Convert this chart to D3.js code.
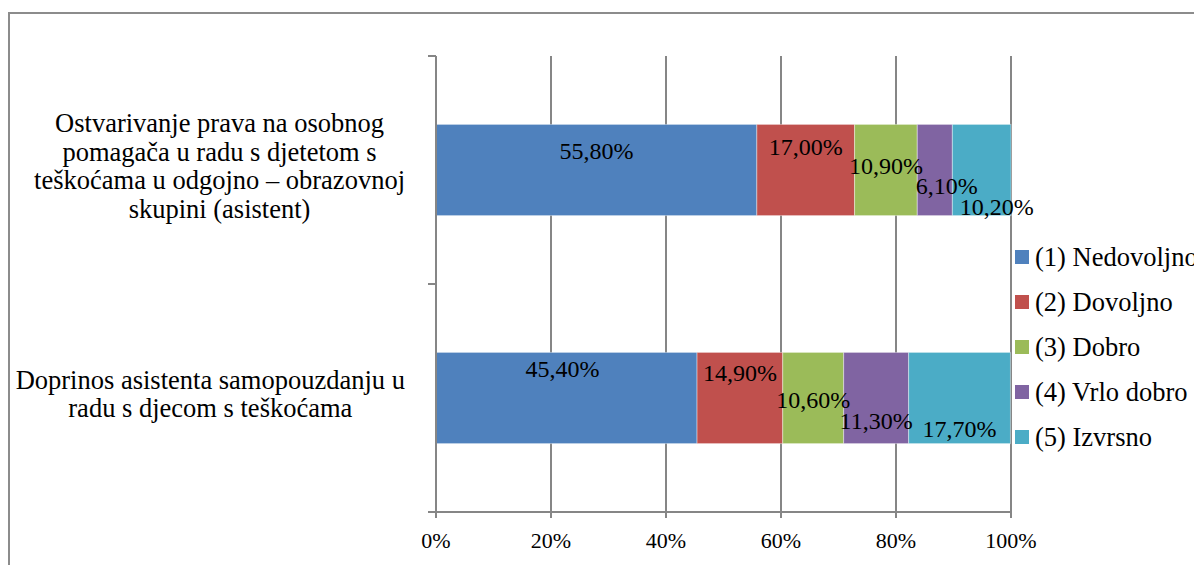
<!DOCTYPE html>
<meta charset="utf-8">
<style>
body { margin: 0; background: #fff; }
svg { font-family: "Liberation Serif", "Times New Roman", serif; }
</style>
<body>
<svg width="1194" height="565"></svg>
<script src="https://cdn.jsdelivr.net/npm/d3@7"></script>
<script>

// data
var categories = [
  "Ostvarivanje prava na osobnog|pomagača u radu s djetetom s|teškoćama u odgojno – obrazovnoj|skupini (asistent)",
  "Doprinos asistenta samopouzdanju u|radu s djecom s teškoćama"
];
var seriesNames = ["(1) Nedovoljno", "(2) Dovoljno", "(3) Dobro", "(4) Vrlo dobro", "(5) Izvrsno"];
var nedovoljno = [55.8, 45.4];
var dovoljno   = [17.0, 14.9];
var dobro      = [10.9, 10.6];
var vrloDobro  = [6.1, 11.3];
var izvrsno    = [10.2, 17.7];
var xTicks = [0, 20, 40, 60, 80, 100];

var colors = ["#4f81bd", "#c0504d", "#9bbb59", "#8064a2", "#4bacc6"];

var svg = d3.select("svg");

// outer frame (only top and left edge show)
svg.append("path")
    .attr("d", "M9,1194 L9,13 L1194,13")
    .attr("fill", "none")
    .attr("stroke", "#8c8c8c")
    .attr("stroke-width", 2);

var pLeft = 436, pRight = 1011, pTop = 56, pBottom = 512;

var x = d3.scaleLinear().domain([0, 100]).range([pLeft, pRight]);
var y = d3.scaleBand().domain(d3.range(categories.length)).range([pTop, pBottom]).paddingInner(0.6).paddingOuter(0.3);
// band for ticks (no padding)
var yCat = d3.scaleBand().domain(d3.range(categories.length)).range([pTop, pBottom]);

var table = categories.map(function(c, i) {
  return { i: i, v0: nedovoljno[i], v1: dovoljno[i], v2: dobro[i], v3: vrloDobro[i], v4: izvrsno[i] };
});
var stack = d3.stack().keys(["v0", "v1", "v2", "v3", "v4"]);
var layers = stack(table);

// gridlines
svg.append("g").selectAll("line")
  .data(xTicks.slice(1))
  .enter().append("line")
    .attr("x1", function(d) { return x(d); })
    .attr("x2", function(d) { return x(d); })
    .attr("y1", pTop)
    .attr("y2", pBottom)
    .attr("stroke", "#868686")
    .attr("stroke-width", 2);

// bars
var g = svg.append("g").selectAll("g")
  .data(layers)
  .enter().append("g")
    .attr("fill", function(d, k) { return colors[k]; });

g.selectAll("rect")
  .data(function(d) { return d; })
  .enter().append("rect")
    .attr("x", function(d) { return x(d[0]); })
    .attr("width", function(d) { return x(d[1]) - x(d[0]); })
    .attr("y", function(d) { return y(d.data.i); })
    .attr("height", y.bandwidth())
    .attr("stroke", "#fff")
    .attr("stroke-opacity", 0.4)
    .attr("stroke-width", 1);

// axes
svg.append("line")
    .attr("x1", pLeft).attr("x2", pLeft).attr("y1", pTop).attr("y2", pBottom)
    .attr("stroke", "#868686").attr("stroke-width", 2);
svg.append("line")
    .attr("x1", pLeft - 8).attr("x2", pRight).attr("y1", pBottom).attr("y2", pBottom)
    .attr("stroke", "#868686").attr("stroke-width", 2);

// y ticks at category boundaries
var yEdges = [pTop].concat(d3.range(categories.length).map(function(i) { return yCat(i) + yCat.bandwidth(); }));
svg.append("g").selectAll("line")
  .data(yEdges)
  .enter().append("line")
    .attr("x1", pLeft - 8).attr("x2", pLeft)
    .attr("y1", function(d) { return d; }).attr("y2", function(d) { return d; })
    .attr("stroke", "#868686").attr("stroke-width", 2);

// x ticks
svg.append("g").selectAll("line")
  .data(xTicks)
  .enter().append("line")
    .attr("x1", function(d) { return x(d); }).attr("x2", function(d) { return x(d); })
    .attr("y1", pBottom).attr("y2", pBottom + 6)
    .attr("stroke", "#868686").attr("stroke-width", 2);

svg.append("g").selectAll("text")
  .data(xTicks)
  .enter().append("text")
    .attr("x", function(d) { return x(d); })
    .attr("y", 548)
    .attr("text-anchor", "middle")
    .attr("font-size", 22)
    .text(function(d) { return d + "%"; });

// category labels, lines centered, block right edge near 405
categories.forEach(function(c, i) {
  var lines = c.split("|");
  var lh = 28.5;
  var cy = yCat(i) + yCat.bandwidth() / 2 - 3;
  var t = svg.append("text")
      .attr("font-size", 26.5)
      .attr("text-anchor", "middle");
  var spans = t.selectAll("tspan")
    .data(lines)
    .enter().append("tspan")
      .attr("y", function(d, k) { return cy + (k - (lines.length - 1) / 2) * lh + 8; })
      .text(function(d) { return d; });
  var maxW = 0;
  spans.each(function() { maxW = Math.max(maxW, this.getComputedTextLength()); });
  spans.attr("x", 405 - maxW / 2);
});

// data labels (Excel dodged them downwards)
var labelDy = [[27, 17], [23, 21], [42, 48], [62, 69], [83, 77]];
var labelDx = [[0, -4], [0, 0], [0, 0], [12, 0], [15, 0]];
layers.forEach(function(layer, k) {
  svg.append("g").selectAll("text")
    .data(layer)
    .enter().append("text")
      .attr("x", function(d) { return (x(d[0]) + x(d[1])) / 2 + labelDx[k][d.data.i]; })
      .attr("y", function(d) { return y(d.data.i) + labelDy[k][d.data.i] + 8; })
      .attr("text-anchor", "middle")
      .attr("font-size", 24)
      .attr("fill", "#000")
      .text(function(d) { return (d[1] - d[0]).toFixed(2).replace(".", ",") + "%"; });
});

// legend
var legend = svg.append("g").selectAll("g")
  .data(seriesNames)
  .enter().append("g")
    .attr("transform", function(d, k) { return "translate(1015," + (257 + k * 45) + ")"; });
legend.append("rect")
    .attr("x", 0).attr("y", -7).attr("width", 14).attr("height", 14)
    .attr("fill", function(d, k) { return colors[k]; });
legend.append("text")
    .attr("x", 20).attr("y", 9)
    .attr("font-size", 26.5)
    .text(function(d) { return d; });

</script>
</body>
